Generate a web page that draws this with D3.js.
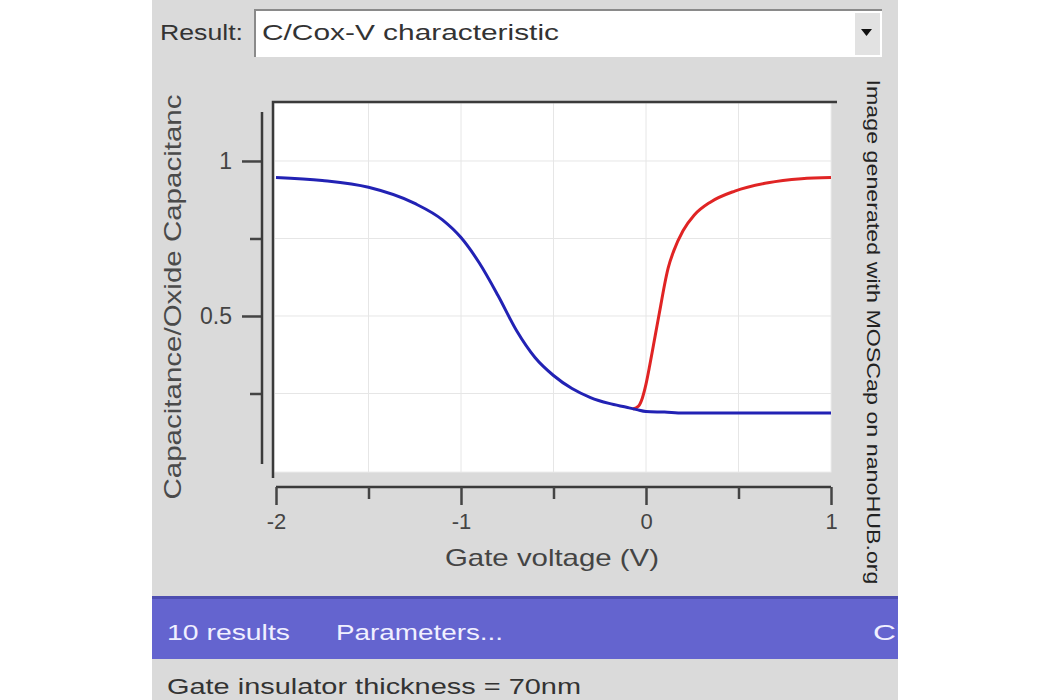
<!DOCTYPE html>
<html><head><meta charset="utf-8">
<script src="https://cdn.jsdelivr.net/npm/d3@7"></script>
<style>
html,body{margin:0;padding:0;background:#fff;}
svg{display:block;}
text{font-family:"Liberation Sans",Arial,sans-serif;}
</style></head>
<body>
<script>
// ---- data ----
const blueVoltage = [-2,-1.75,-1.5,-1.25,-1.1,-1.0,-0.9,-0.8,-0.7,-0.6,-0.5,-0.4,-0.3,-0.2,-0.1,-0.05,0,0.1,0.2,0.5,1.0];
const blueCap     = [0.947,0.937,0.915,0.863,0.81,0.753,0.67,0.566,0.453,0.366,0.308,0.266,0.237,0.218,0.205,0.198,0.192,0.19,0.187,0.187,0.187];
const redVoltage  = [-0.07,-0.04,-0.02,0,0.02,0.04,0.06,0.08,0.1,0.12,0.15,0.2,0.26,0.35,0.48,0.66,0.84,1.0];
const redCap      = [0.2,0.21,0.235,0.28,0.34,0.405,0.47,0.535,0.6,0.655,0.71,0.775,0.825,0.868,0.903,0.93,0.943,0.947];
const xTicks = [-2,-1.5,-1,-0.5,0,0.5,1];
const xTickLabels = ["-2","","-1","","0","","1"];
const yTicks = [0.25,0.5,0.75,1];
const yTickLabels = ["","0.5","","1"];
const resultLabel = "Result:";
const resultValue = "C/Cox-V characteristic";
const xTitle = "Gate voltage (V)";
const yTitle = "Capacitance/Oxide Capacitanc";
const watermark = "Image generated with MOSCap on nanoHUB.org";
const barItems = ["10 results","Parameters...","Cl"];
const footer = "Gate insulator thickness = 70nm";

const W=1050,H=700;
const svg=d3.select("body").append("svg").attr("width",W).attr("height",H);

// panel
svg.append("rect").attr("x",152).attr("y",0).attr("width",746).attr("height",H).attr("fill","#dadada");

// combo box
svg.append("text").attr("x",160).attr("y",40).attr("font-size",22).attr("fill","#333")
  .attr("textLength",83).attr("lengthAdjust","spacingAndGlyphs").text(resultLabel);
svg.append("rect").attr("x",255).attr("y",10).attr("width",627).attr("height",47).attr("fill","#fff");
svg.append("path").attr("d","M255,57 V10 H882").attr("stroke","#8a8a8a").attr("stroke-width",2).attr("fill","none");
svg.append("rect").attr("x",855).attr("y",13).attr("width",25).attr("height",42).attr("fill","#e2e2e2");
svg.append("path").attr("d","M861,29 L872,29 L866.5,36 Z").attr("fill","#111");
svg.append("text").attr("x",262).attr("y",40).attr("font-size",22).attr("fill","#333")
  .attr("textLength",297).attr("lengthAdjust","spacingAndGlyphs").text(resultValue);

// scales
const x=d3.scaleLinear().domain([-2,1]).range([276,831]);
const y=d3.scaleLinear().domain([0,1.187]).range([471,103]);

// plot area
svg.append("rect").attr("x",274).attr("y",103).attr("width",557).attr("height",369).attr("fill","#fff")
  .attr("stroke","#ececec").attr("stroke-width",1);
// grid
svg.append("g").selectAll("line").data(xTicks.slice(1,-1)).join("line")
  .attr("x1",d=>x(d)).attr("x2",d=>x(d)).attr("y1",103).attr("y2",472)
  .attr("stroke","#e6e6e6").attr("stroke-width",1);
svg.append("g").selectAll("line").data(yTicks).join("line")
  .attr("y1",d=>y(d)).attr("y2",d=>y(d)).attr("x1",275).attr("x2",831)
  .attr("stroke","#e6e6e6").attr("stroke-width",1);
// frame (top & left)
svg.append("path").attr("d","M273,478 V102 H837").attr("stroke","#3a3a3a").attr("stroke-width",2.5).attr("fill","none");

// curves
const line=d3.line().x(d=>x(d[0])).y(d=>y(d[1])).curve(d3.curveMonotoneX);
svg.append("path").datum(redVoltage.map((v,i)=>[v,redCap[i]])).attr("d",line)
  .attr("fill","none").attr("stroke","#e02424").attr("stroke-width",3);
svg.append("path").datum(blueVoltage.map((v,i)=>[v,blueCap[i]])).attr("d",line)
  .attr("fill","none").attr("stroke","#2222b4").attr("stroke-width",3);

// y axis
const yAxis=d3.axisLeft(y).tickValues(yTicks).tickSize(20).tickFormat((d,i)=>yTickLabels[i]);
const gy=svg.append("g").attr("transform","translate(262,0)").call(yAxis);
gy.select(".domain").remove();
gy.append("line").attr("x1",0).attr("x2",0).attr("y1",112).attr("y2",464).attr("stroke","#3a3a3a").attr("stroke-width",2.5);
gy.selectAll(".tick line").attr("stroke","#444").attr("stroke-width",2.5)
  .attr("x2",(d,i)=>yTickLabels[i]?-20:-12);
gy.selectAll(".tick text").attr("x",-30).attr("font-size",23).attr("fill","#444")
  .attr("font-family","Liberation Sans, Arial, sans-serif");

// x axis
const xAxis=d3.axisBottom(x).tickValues(xTicks).tickSize(18).tickFormat((d,i)=>xTickLabels[i]);
const gx=svg.append("g").attr("transform","translate(0,487)").call(xAxis);
gx.select(".domain").attr("d","M"+x(-2)+",0H"+x(1)).attr("stroke","#3a3a3a").attr("stroke-width",2.5);
gx.selectAll(".tick line").attr("stroke","#444").attr("stroke-width",2.5)
  .attr("y2",(d,i)=>xTickLabels[i]?18:12);
gx.selectAll(".tick text").attr("y",26).attr("font-size",22).attr("fill","#444")
  .attr("font-family","Liberation Sans, Arial, sans-serif");

// axis titles
svg.append("text").attr("transform","translate(552,566)").attr("text-anchor","middle")
  .attr("font-size",24).attr("fill","#444").attr("textLength",214).attr("lengthAdjust","spacingAndGlyphs").text(xTitle);
svg.append("text").attr("transform","translate(181,297) rotate(-90)").attr("text-anchor","middle")
  .attr("font-size",24).attr("fill","#4a4a4a").attr("textLength",405).attr("lengthAdjust","spacingAndGlyphs").text(yTitle);
svg.append("text").attr("transform","translate(867,332) rotate(90)").attr("text-anchor","middle")
  .attr("font-size",19).attr("fill","#222").attr("textLength",505).attr("lengthAdjust","spacingAndGlyphs").text(watermark);

// blue bar
svg.append("rect").attr("x",152).attr("y",597).attr("width",746).attr("height",62).attr("fill","#6464cf");
svg.append("rect").attr("x",152).attr("y",596).attr("width",746).attr("height",3).attr("fill","#4d4db0");
const barX=[167,336,873], barW=[123,167,30];
svg.append("clipPath").attr("id","barclip").append("rect").attr("x",152).attr("y",597).attr("width",746).attr("height",62);
svg.append("g").attr("clip-path","url(#barclip)").selectAll("text").data(barItems).join("text")
  .attr("x",(d,i)=>barX[i]).attr("y",640).attr("font-size",22).attr("fill","#f0f0ff")
  .attr("textLength",(d,i)=>barW[i]).attr("lengthAdjust","spacingAndGlyphs").text(d=>d);

// footer
svg.append("text").attr("x",167).attr("y",694).attr("font-size",22).attr("fill","#333")
  .attr("textLength",414).attr("lengthAdjust","spacingAndGlyphs").text(footer);
</script>
</body></html>
